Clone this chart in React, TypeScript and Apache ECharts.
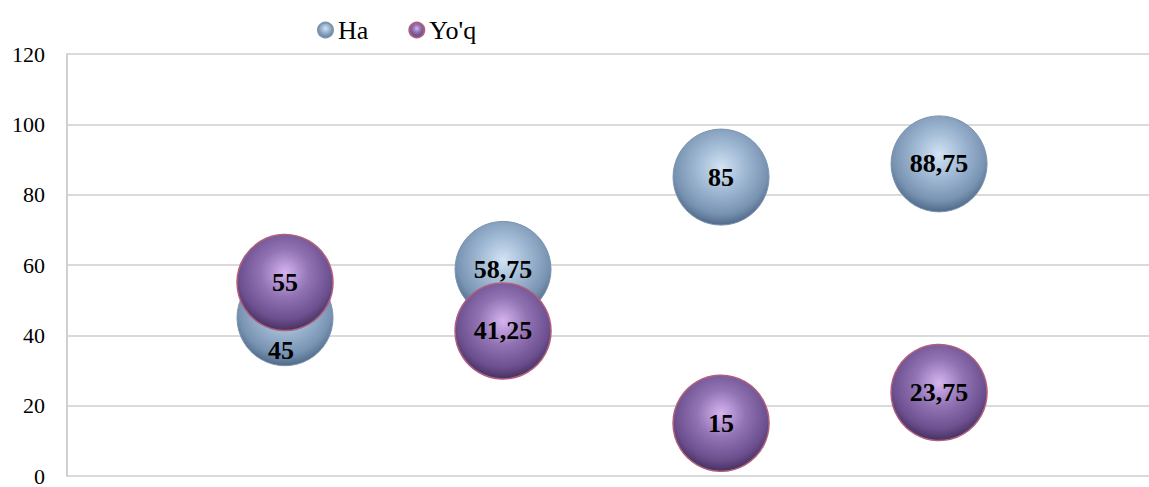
import React, { useEffect, useRef } from "react";
import * as echarts from "echarts";

const xPositions = [1, 2, 3, 4];
const haValues = [45, 58.75, 85, 88.75];
const yoqValues = [55, 41.25, 15, 23.75];
const seriesNames = ["Ha", "Yo'q"];

const SERIF = "'Liberation Serif', 'Times New Roman', 'DejaVu Serif', serif";
const fmt = (v: number) => String(v).replace(".", ",");

const blueGrad = {
  type: "radial",
  x: 0.5,
  y: 0.4,
  r: 0.62,
  colorStops: [
    { offset: 0, color: "#d2e3f4" },
    { offset: 0.4, color: "#a0b9d4" },
    { offset: 0.78, color: "#7893b2" },
    { offset: 1, color: "#4a6282" },
  ],
};
const purpleGrad = {
  type: "radial",
  x: 0.5,
  y: 0.4,
  r: 0.62,
  colorStops: [
    { offset: 0, color: "#d6b4f0" },
    { offset: 0.4, color: "#9274b4" },
    { offset: 0.78, color: "#6c4f8e" },
    { offset: 1, color: "#402b58" },
  ],
};

export default function App() {
  const ref = useRef<HTMLDivElement>(null);
  useEffect(() => {
    if (!ref.current) return;
    const chart = echarts.init(ref.current, null, { renderer: "svg" });
    const labelBase = {
      show: true,
      position: "inside",
      fontFamily: SERIF,
      fontSize: 26,
      fontWeight: "bold",
      color: "#000",
      formatter: (p: any) => fmt(p.value[1]),
    };
    chart.setOption({
      animation: false,
      backgroundColor: "#fff",
      legend: {
        left: 312,
        top: 12,
        itemWidth: 15,
        itemHeight: 15,
        itemGap: 40,
        icon: "circle",
        textStyle: { fontFamily: SERIF, fontSize: 26, color: "#000" },
        data: seriesNames,
      },
      grid: { left: 67, right: 0, top: 54, bottom: 8, containLabel: false },
      xAxis: {
        type: "value",
        min: 0,
        max: 4.963,
        axisLine: { show: false },
        axisTick: { show: false },
        axisLabel: { show: false },
        splitLine: { show: false },
      },
      yAxis: {
        type: "value",
        min: 0,
        max: 120,
        interval: 20,
        axisLine: { show: true, lineStyle: { color: "#d0d0d0", width: 2 } },
        axisTick: { show: false },
        axisLabel: {
          margin: 22,
          fontFamily: SERIF,
          fontSize: 22,
          color: "#000",
        },
        splitLine: { show: true, lineStyle: { color: "#dadada", width: 2 } },
      },
      series: [
        {
          name: seriesNames[0],
          type: "scatter",
          symbolSize: 96,
          itemStyle: { color: blueGrad, borderColor: "#7d93ad", borderWidth: 1, opacity: 1 },
          emphasis: { disabled: true },
          label: labelBase,
          data: xPositions.map((x, i) =>
            i === 0
              ? { value: [x, haValues[i]], label: { offset: [-4, 33] } }
              : { value: [x, haValues[i]] }
          ),
        },
        {
          name: seriesNames[1],
          type: "scatter",
          symbolSize: 96,
          itemStyle: { color: purpleGrad, borderColor: "#b0607c", borderWidth: 1.5, opacity: 1 },
          emphasis: { disabled: true },
          label: labelBase,
          data: xPositions.map((x, i) => ({ value: [x, yoqValues[i]] })),
        },
      ],
    });
    return () => chart.dispose();
  }, []);
  return (
    <div
      ref={ref}
      style={{ position: "absolute", left: 0, top: 0, width: 1149, height: 487 }}
    />
  );
}
